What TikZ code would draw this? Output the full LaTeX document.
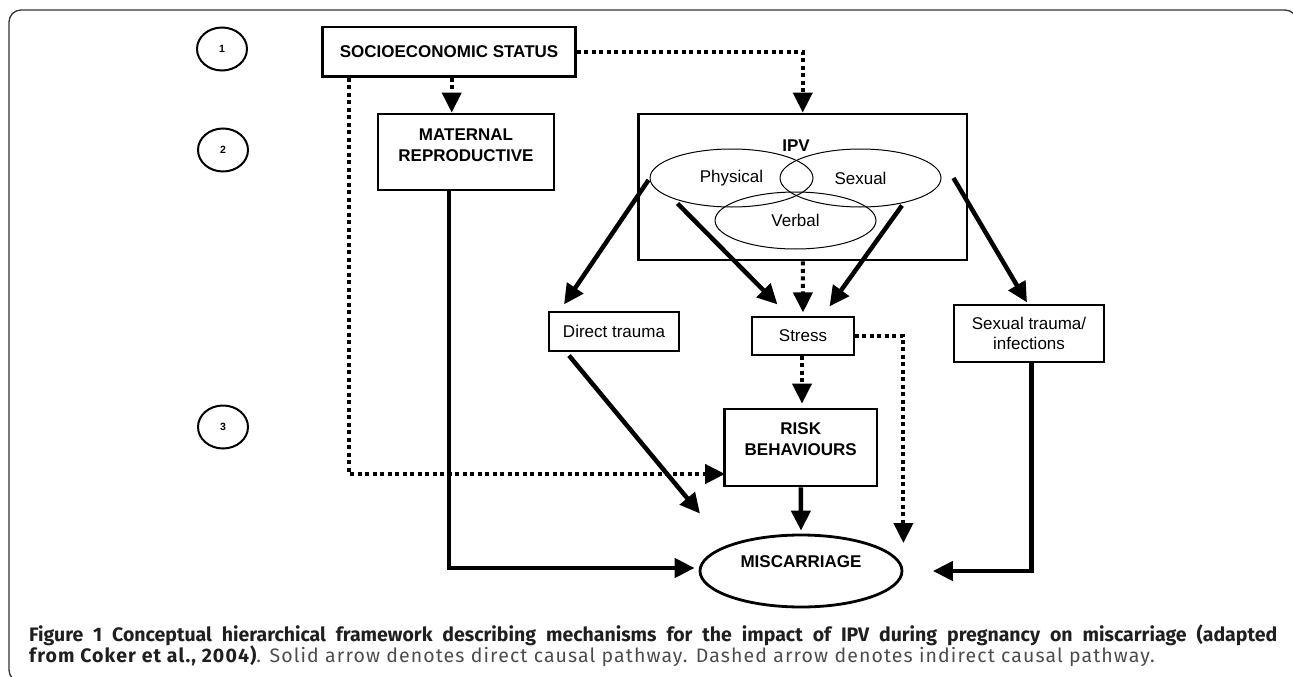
\documentclass[tikz,border=0pt]{standalone}
\usepackage{fontspec}
\setmainfont{Liberation Sans}
\newfontfamily\capfont{Fira Sans}
\newfontfamily\capfontwide[LetterSpace=5.7]{Fira Sans}
\usetikzlibrary{arrows.meta,shapes.geometric,calc}
\begin{document}
\begin{tikzpicture}[x=1pt,y=-1pt,
  boldbox/.style={draw, line width=2.8pt, inner sep=0pt, align=center,
    font=\bfseries\fontsize{17}{21}\selectfont},
  thinbox/.style={draw, line width=1.1pt, inner sep=0pt, align=center,
    font=\fontsize{17}{20.5}\selectfont},
  oval/.style={ellipse, draw, line width=1pt, inner sep=0pt,
    font=\fontsize{17}{20}\selectfont},
  num/.style={ellipse, draw, line width=2pt, minimum width=50pt, minimum height=43pt,
    inner sep=0pt, font=\bfseries\fontsize{10.5}{12}\selectfont},
  btext/.style={align=center, inner sep=0pt, font=\bfseries\fontsize{17}{21}\selectfont},
  solidarrow/.style={line width=4.5pt, -{Triangle[length=20pt,width=19pt]}},
  dotarrow/.style={line width=4pt, dash pattern=on 4pt off 3.5pt,
    -{Triangle[length=20pt,width=19pt]}}
]
\useasboundingbox (0,0) rectangle (1293,677);
% frame
\draw[line width=1.3pt, black!80, rounded corners=12pt] (9,10) rectangle (1297,682);

% level circles
\node[num] (c1) at (222,49) {1};
\node[num] (c2) at (223,150) {2};
\node[num] (c3) at (223,427) {3};

% boxes
\node[boldbox, minimum width=253pt, minimum height=49.5pt] (ses) at (449,51.75) {SOCIOECONOMIC STATUS};
\node[boldbox, minimum width=176pt, minimum height=76pt] (mat) at (466,152) {};
\node[btext] at ([yshift=6.5pt]mat.center) {MATERNAL\\REPRODUCTIVE};
\node[boldbox, minimum width=328.5pt, minimum height=146pt] (ipv) at (802.75,187) {};
\node[btext] (ipvlab) at (796,146) {IPV};
\node[oval, minimum width=163pt, minimum height=58pt] (phys) at (731.5,178) {Physical};
\node[oval, minimum width=161pt, minimum height=58pt] (sex) at (860.5,178) {Sexual};
\node[oval, minimum width=161pt, minimum height=57pt] (verb) at (795.5,220.5) {Verbal};

\node[thinbox, minimum width=130pt, minimum height=39pt] (direct) at (614,331.5) {Direct trauma};
\node[thinbox, minimum width=102pt, minimum height=38pt] (stress) at (803,336) {Stress};
\node[thinbox, minimum width=150pt, minimum height=57pt] (sextr) at (1029,333.5) {Sexual trauma/\\infections};

\node[boldbox, minimum width=152.5pt, minimum height=77pt] (risk) at (800.75,447.5) {};
\node[btext] at ([yshift=8pt]risk.center) {RISK\\BEHAVIOURS};

\node[ellipse, draw, line width=2.8pt, inner sep=0pt, minimum width=202pt, minimum height=72pt] (mis) at (801,571) {};
\node[btext] at ([yshift=9pt]mis.center) {MISCARRIAGE};

% dotted connectors
\draw[dotarrow] (ses.east) -| (ipv.north);
\draw[dotarrow] ([xshift=2.7pt]ses.south) -- ([xshift=-14.3pt]mat.north);
\draw[dotarrow] ([xshift=-100pt]ses.south) |- ([yshift=-26.5pt,xshift=2pt]risk.west);
\draw[dotarrow] (ipv.south) -- ([yshift=4pt]stress.north);
\draw[dotarrow] ([xshift=-1pt]stress.south) -- ([yshift=4pt,xshift=1.25pt]risk.north);
\draw[dotarrow] (stress.east) -| ([yshift=28pt]mis.east);

% solid connectors
\draw[solidarrow] ([xshift=-17pt]mat.south) |- ([xshift=-4pt,yshift=3pt]mis.west);
\draw[solidarrow] ([xshift=-1pt,yshift=-2pt]phys.west) -- ([xshift=-50pt,yshift=7pt]direct.north);
\draw[solidarrow] ([xshift=-54pt,yshift=4pt]phys.south) -- ([xshift=-25.5pt,yshift=12pt]stress.north);
\draw[solidarrow] ([xshift=41.5pt,yshift=2pt]sex.south) -- ([xshift=26.5pt,yshift=10pt]stress.north);
\draw[solidarrow] ([xshift=12pt]sex.east) -- ([xshift=-2pt,yshift=2pt]sextr.north);
\draw[solidarrow] ([xshift=-45pt,yshift=-4pt]direct.south) -- ([xshift=-101pt,yshift=20pt]mis.north);
\draw[solidarrow] (risk.south) -- ([yshift=3pt]mis.north);
\draw[solidarrow] ([xshift=2.5pt]sextr.south) |- ([xshift=29.5pt]mis.east);

% caption
\node[anchor=base west, inner sep=0pt, text=black!88,
  font=\capfont\bfseries\fontsize{19.5}{22}\selectfont] (cap1) at (29,641)
  {\makebox[1248pt][s]{Figure 1 Conceptual hierarchical framework describing mechanisms for the impact of IPV during pregnancy on miscarriage (adapted}};
\node[anchor=base west, inner sep=0pt, text=black!70,
  font=\capfontwide\fontsize{19.5}{22}\selectfont] (cap2) at (29,662)
  {{\bfseries\color{black!88}from Coker et al., 2004)}. Solid arrow denotes direct causal pathway. Dashed arrow denotes indirect causal pathway.};
\end{tikzpicture}
\end{document}
